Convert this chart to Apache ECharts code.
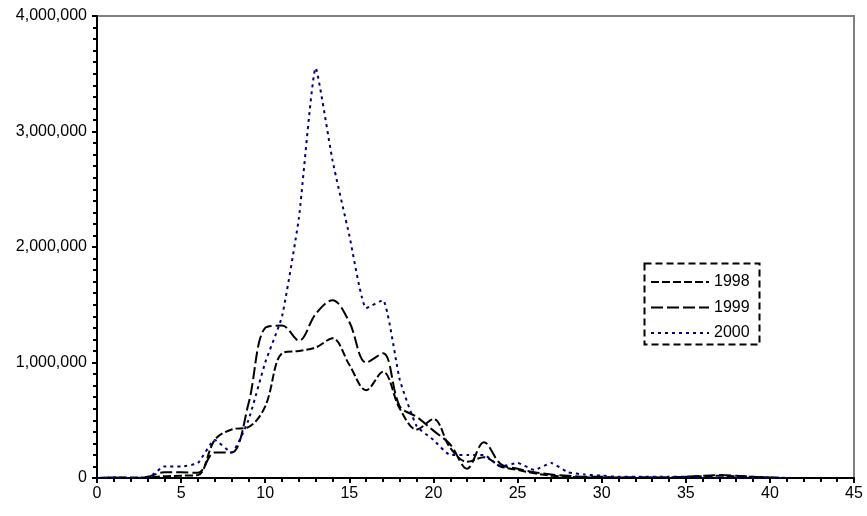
<!DOCTYPE html>
<html>
<head>
<meta charset="utf-8">
<title>chart</title>
<script src="https://cdn.jsdelivr.net/npm/echarts@6/dist/echarts.min.js"></script>
<style>
  html, body { margin: 0; padding: 0; background: #fff; }
  #main { width: 867px; height: 516px; }
</style>
</head>
<body>
<div id="main"></div>
<script>
// length classes (x axis)
var lengths = [0, 1, 2, 3, 4, 5, 6, 7, 8, 9, 10, 11, 12, 13, 14, 15, 16, 17, 18, 19, 20,
               21, 22, 23, 24, 25, 26, 27, 28, 29, 30, 31, 32, 33, 34, 35, 36, 37, 38, 39, 40, 41];
// values
var y1998 = [0, 5000, 5000, 5000, 15000, 20000, 25000, 330000, 420000, 440000, 620000,
             1080000, 1100000, 1130000, 1210000, 980000, 760000, 920000, 600000, 420000, 510000,
             260000, 140000, 180000, 100000, 70000, 40000, 20000, 10000, 5000, 5000,
             5000, 5000, 5000, 5000, 10000, 15000, 20000, 15000, 10000, 5000, 0];
var y1999 = [0, 5000, 0, 10000, 50000, 50000, 45000, 220000, 220000, 640000, 1300000,
             1320000, 1190000, 1420000, 1540000, 1350000, 1000000, 1080000, 620000, 530000, 410000,
             290000, 80000, 310000, 120000, 80000, 50000, 30000, 20000, 10000, 10000,
             5000, 5000, 5000, 5000, 10000, 20000, 25000, 20000, 10000, 5000, 0];
var y2000 = [0, 0, 0, 0, 100000, 100000, 130000, 330000, 220000, 500000, 1000000,
             1400000, 2250000, 3550000, 2750000, 2100000, 1470000, 1540000, 850000, 450000, 330000,
             200000, 200000, 200000, 100000, 130000, 70000, 130000, 50000, 30000, 20000,
             10000, 10000, 10000, 10000, 10000, 0, 0, 0, 0, 0, 0];
var seriesNames = ['1998', '1999', '2000'];

function pairs(vals) {
  var d = [];
  for (var i = 0; i < lengths.length; i++) {
    d.push([lengths[i], vals[i]]);
  }
  return d;
}

var myChart = echarts.init(document.getElementById('main'), null, { renderer: 'canvas' });
var font = 'Liberation Sans, Arial, sans-serif';

var option = {
  animation: false,
  backgroundColor: '#fff',
  textStyle: { fontFamily: font },
  grid: {
    left: 97, right: 13, top: 16, bottom: 38,
    show: true, borderColor: '#808080', borderWidth: 2
  },
  legend: {
    orient: 'vertical',
    left: 650, top: 274,
    itemWidth: 58, itemHeight: 16, itemGap: 9.5,
    padding: 0,
    itemStyle: { opacity: 0 },
    textStyle: { fontFamily: font, fontSize: 16, color: '#000' },
    data: seriesNames
  },
  graphic: [{
    type: 'rect',
    shape: { x: 644.5, y: 263.5, width: 115, height: 81 },
    style: { fill: null, stroke: '#000', lineWidth: 2, lineDash: [7, 4] },
    z: 10
  }],
  xAxis: {
    type: 'value', min: 0, max: 45, interval: 5,
    axisLine: { onZero: false, lineStyle: { color: '#000', width: 2 } },
    axisTick: { show: true, length: 5, lineStyle: { color: '#000', width: 2 } },
    minorTick: { show: true, splitNumber: 5, length: 4, lineStyle: { color: '#000', width: 2 } },
    splitLine: { show: false },
    axisLabel: { color: '#000', fontSize: 16, margin: 8, fontFamily: font }
  },
  yAxis: {
    type: 'value', min: 0, max: 4000000, interval: 1000000,
    axisLine: { show: true, lineStyle: { color: '#000', width: 2 } },
    axisTick: { show: true, length: 5, lineStyle: { color: '#000', width: 2 } },
    minorTick: { show: true, splitNumber: 10, length: 4, lineStyle: { color: '#000', width: 2 } },
    splitLine: { show: false },
    axisLabel: {
      color: '#000', fontSize: 16, margin: 10, fontFamily: font,
      formatter: function (v) { return v.toLocaleString('en-US'); }
    }
  },
  series: [
    {
      name: '1998', type: 'line', smooth: 0.35, symbol: 'none',
      lineStyle: { color: '#000', width: 2, type: [8, 3] },
      itemStyle: { color: '#000' },
      data: pairs(y1998)
    },
    {
      name: '1999', type: 'line', smooth: 0.35, symbol: 'none',
      lineStyle: { color: '#000', width: 2, type: [12, 4] },
      itemStyle: { color: '#000' },
      data: pairs(y1999)
    },
    {
      name: '2000', type: 'line', smooth: 0.15, symbol: 'none',
      lineStyle: { color: '#000080', width: 2, type: [3, 4] },
      itemStyle: { color: '#000080' },
      data: pairs(y2000)
    }
  ]
};
myChart.setOption(option);
</script>
</body>
</html>
